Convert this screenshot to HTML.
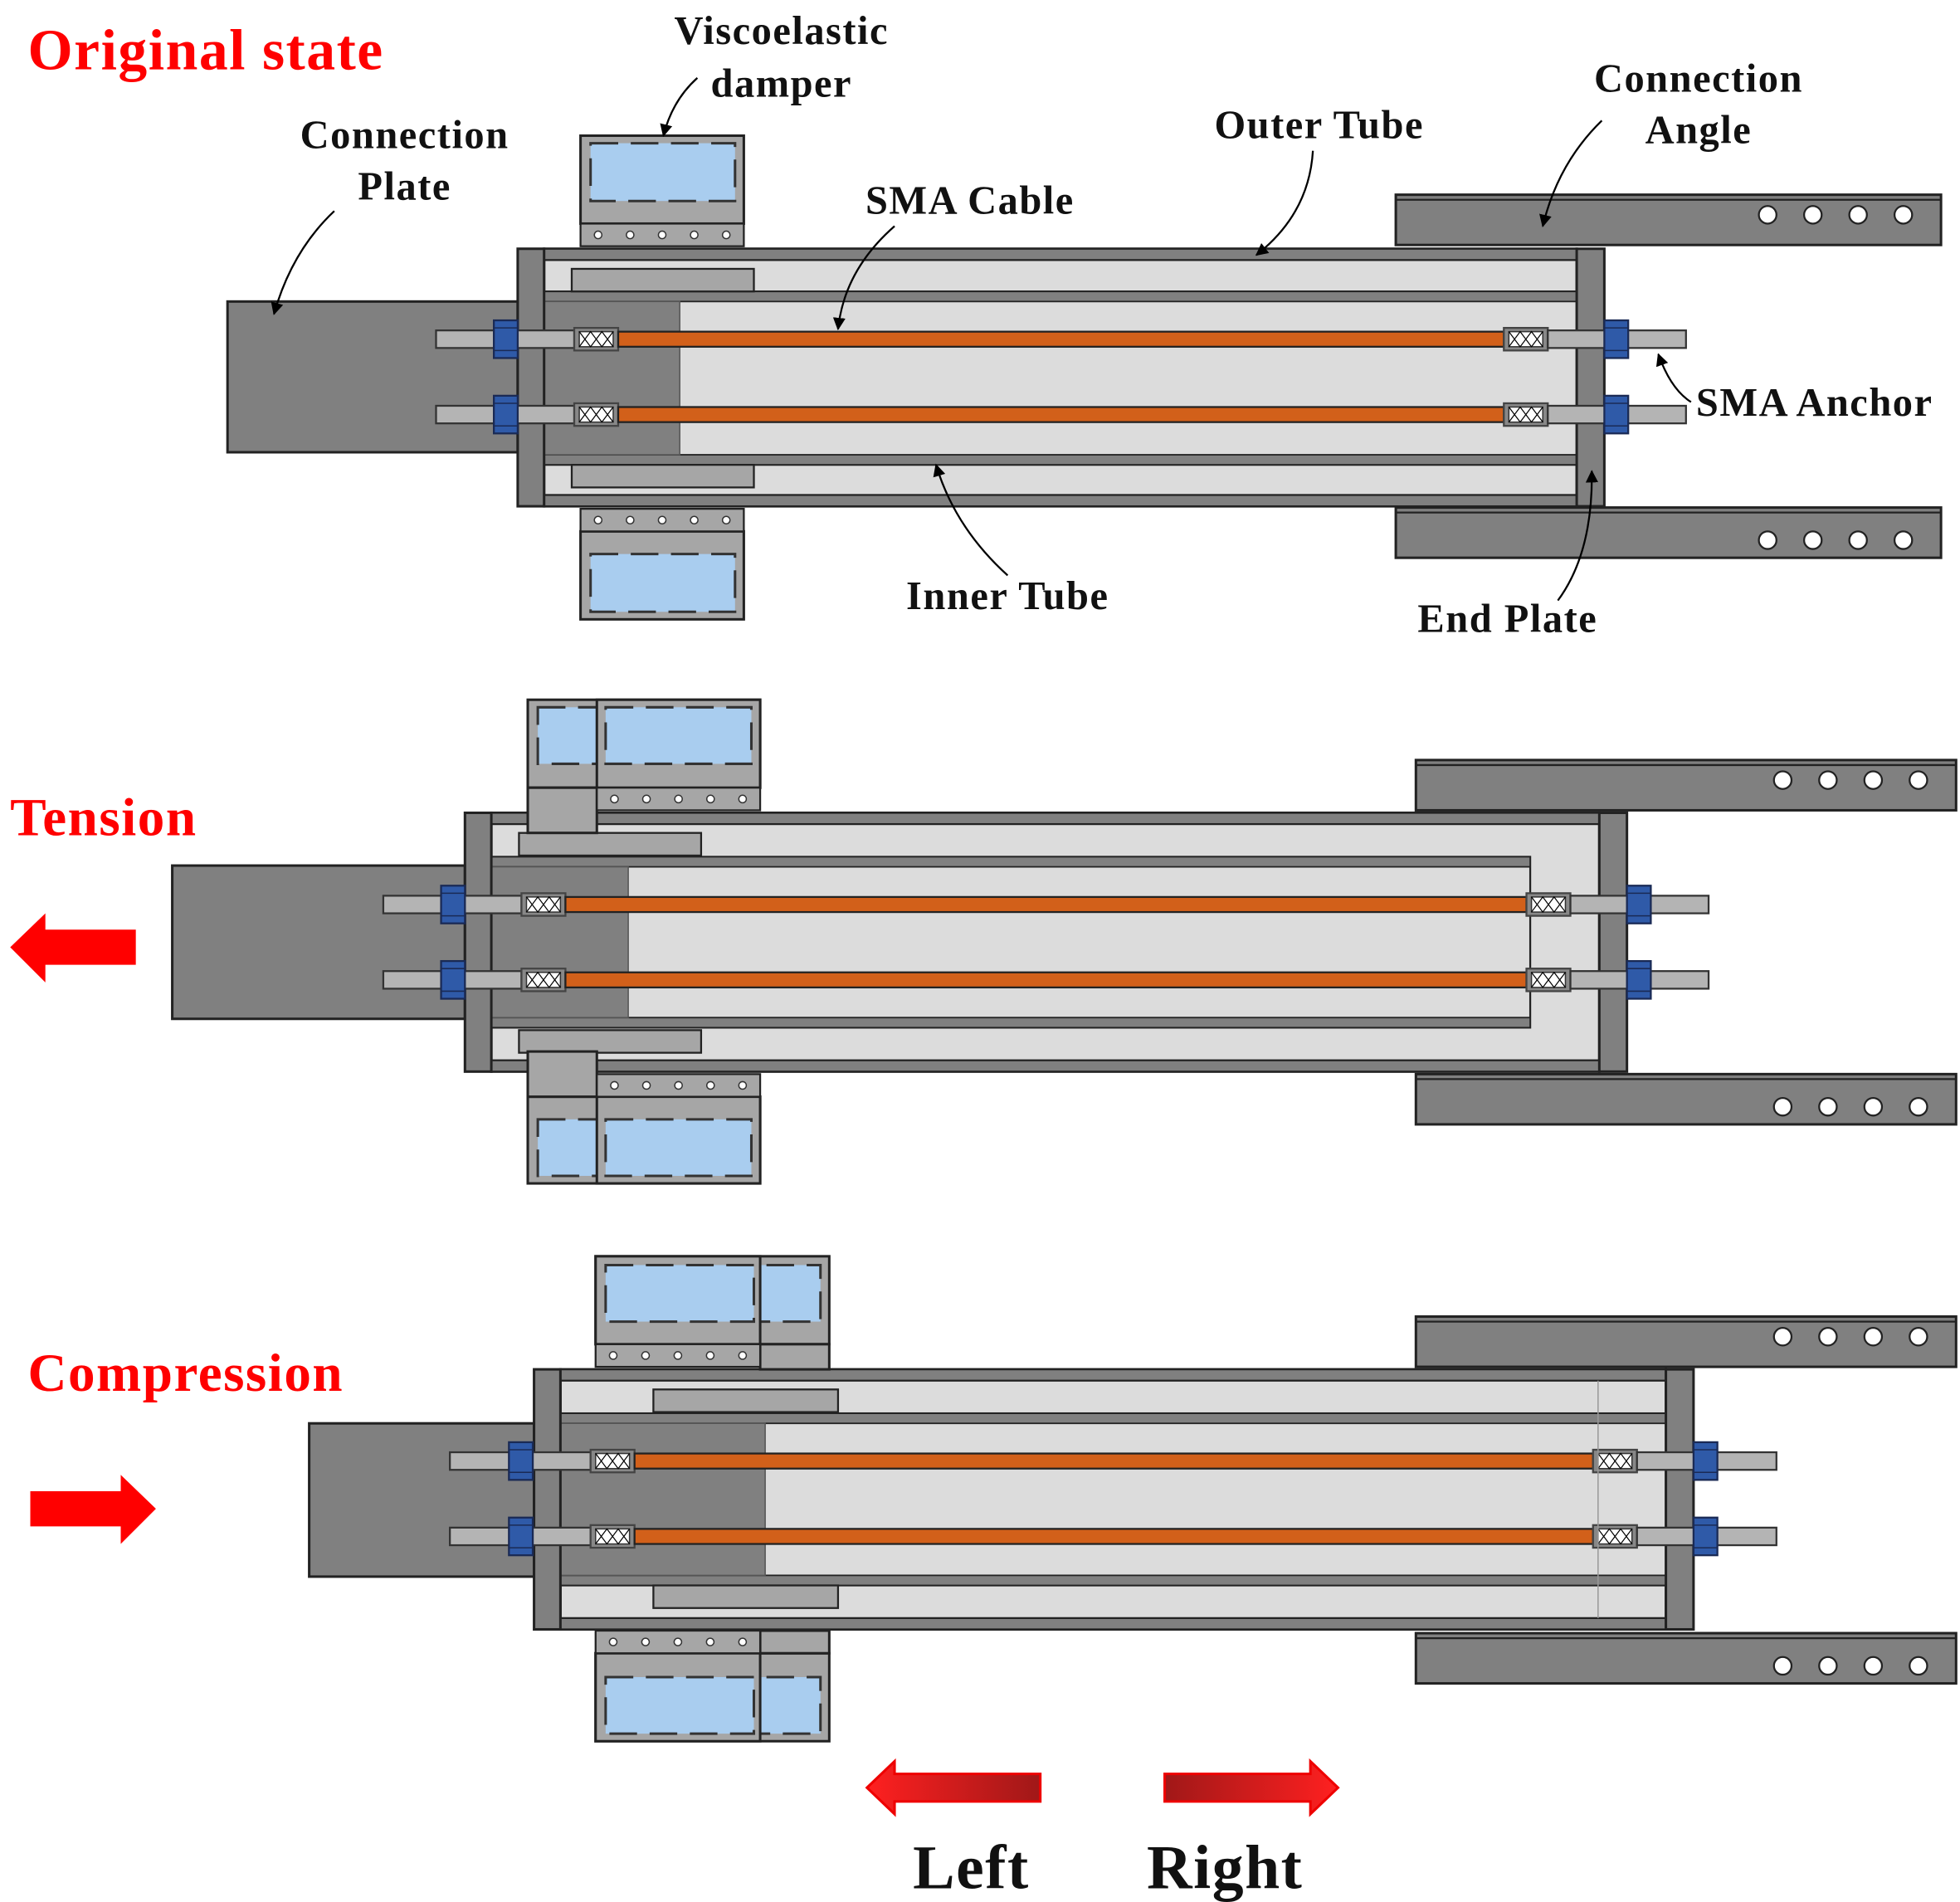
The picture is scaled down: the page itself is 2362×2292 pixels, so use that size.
<!DOCTYPE html>
<html><head><meta charset="utf-8">
<style>
html,body{margin:0;padding:0;background:#fff;}
svg{display:block;}
.lb{font-family:"Liberation Serif",serif;font-weight:bold;fill:#111;font-size:32px;letter-spacing:1px;}
.red{font-family:"Liberation Serif",serif;font-weight:bold;fill:#f00;letter-spacing:1px;}
</style></head>
<body>
<svg id="s" width="2362" height="2292" viewBox="0 0 1560 1514" xmlns="http://www.w3.org/2000/svg">
<defs>
<marker id="ah" markerWidth="10" markerHeight="10" refX="9" refY="5" orient="auto" markerUnits="userSpaceOnUse" viewBox="0 0 10 10">
<path d="M0,0 L10,5 L0,10 z" fill="#000"/></marker>
<linearGradient id="gl" x1="0" x2="1"><stop offset="0" stop-color="#ff2020"/><stop offset="1" stop-color="#a01818"/></linearGradient>
<linearGradient id="gr" x1="0" x2="1"><stop offset="0" stop-color="#a01818"/><stop offset="1" stop-color="#ff2020"/></linearGradient>
</defs>
<g id="shapes"></g>

<text class="red" x="22" y="55" font-size="46">Original state</text>
<text class="lb" x="622" y="35" text-anchor="middle">Viscoelastic</text>
<text class="lb" x="622" y="77" text-anchor="middle">damper</text>
<text class="lb" x="322" y="118" text-anchor="middle">Connection</text>
<text class="lb" x="322" y="159" text-anchor="middle">Plate</text>
<text class="lb" x="772" y="170" text-anchor="middle">SMA Cable</text>
<text class="lb" x="1050" y="110" text-anchor="middle">Outer Tube</text>
<text class="lb" x="1352" y="73" text-anchor="middle">Connection</text>
<text class="lb" x="1352" y="114" text-anchor="middle">Angle</text>
<text class="lb" x="1350" y="331">SMA Anchor</text>
<text class="lb" x="802" y="485" text-anchor="middle">Inner Tube</text>
<text class="lb" x="1200" y="503" text-anchor="middle">End Plate</text>
<text class="red" x="8" y="665" font-size="43">Tension</text>
<text class="red" x="22" y="1107" font-size="43">Compression</text>
<text class="lb" x="773" y="1503" text-anchor="middle" style="font-size:50px">Left</text>
<text class="lb" x="975" y="1503" text-anchor="middle" style="font-size:50px">Right</text>

<g fill="none" stroke="#000" stroke-width="1.5">
<path d="M555,62 Q535,80 528,108" marker-end="url(#ah)"/>
<path d="M266,168 Q232,200 218,250" marker-end="url(#ah)"/>
<path d="M712,180 Q672,215 667,262" marker-end="url(#ah)"/>
<path d="M1045,120 Q1042,170 1000,203" marker-end="url(#ah)"/>
<path d="M1275,96 Q1240,130 1228,180" marker-end="url(#ah)"/>
<path d="M1346,320 Q1330,310 1320,282" marker-end="url(#ah)"/>
<path d="M802,458 Q760,420 745,370" marker-end="url(#ah)"/>
<path d="M1240,478 Q1268,440 1267,375" marker-end="url(#ah)"/>
</g>

<path d="M8,754 L36,727 L36,740 L108,740 L108,768 L36,768 L36,782 z" fill="#f00"/>
<path d="M124,1201 L96,1174 L96,1187 L24,1187 L24,1215 L96,1215 L96,1229 z" fill="#f00"/>
<path d="M690,1423 L712,1402 L712,1412 L828,1412 L828,1434 L712,1434 L712,1444 z" fill="url(#gl)" stroke="#e00" stroke-width="2"/>
<path d="M1065,1423 L1043,1402 L1043,1412 L927,1412 L927,1434 L1043,1434 L1043,1444 z" fill="url(#gr)" stroke="#e00" stroke-width="2"/>
</svg>
<script>
const g=document.getElementById('shapes');let h='';
const D='#808080',L='#dcdcdc',M='#a6a6a6',K='#222';
function R(x,y,w,hh,f,s,sw,extra){if(w<=0)return;h+=`<rect x="${x}" y="${y}" width="${w}" height="${hh}" fill="${f}" stroke="${s||K}" stroke-width="${sw||1.5}" ${extra||''}/>`;}
function rod(x1,x2,y){R(x1,y-7,x2-x1,14,'#b4b4b4','#333',1.5);}
function nut(x,y){R(x,y-15,19,30,'#2f5aa8','#1a2a55',1.5);h+=`<line x1="${x}" y1="${y-9}" x2="${x+19}" y2="${y-9}" stroke="#1a2a55"/><line x1="${x}" y1="${y+9}" x2="${x+19}" y2="${y+9}" stroke="#1a2a55"/>`;}
function cpl(x,y){R(x,y-9,35,18,'#888','#444',1.5);R(x+4,y-6,27,12,'#fff','#333',1);h+=`<path d="M${x+4},${y-6} L${x+13},${y+6} L${x+22},${y-6} L${x+31},${y+6} M${x+4},${y+6} L${x+13},${y-6} L${x+22},${y+6} L${x+31},${y-6}" stroke="#000" stroke-width="0.8" fill="none"/>`;}
function cable(x1,x2,y){R(x1,y-6,x2-x1,12,'#d2601a',K,1.5);}
function bolts(x,y,w){R(x,y,w,18,M,K,1.5);for(let i=0;i<5;i++){h+=`<circle cx="${x+14+i*(w-28)/4}" cy="${y+9}" r="3" fill="#fff" stroke="#333"/>`;}}
function angle(x1,x2,y,cy){R(x1,y,x2-x1,40,D,K,2);h+=`<line x1="${x1}" y1="${y+4}" x2="${x2}" y2="${y+4}" stroke="${K}" stroke-width="1.5"/>`;[0,1,2,3].forEach(i=>h+=`<circle cx="${x2-138+i*36}" cy="${cy}" r="7" fill="#fff" stroke="#222" stroke-width="1.5"/>`);}
function blue(x,y,w,hh){R(x,y,w,hh,'#a9cdef','#333',2,'stroke-dasharray="22 10"');}

function state(o){
 angle(o.ax,o.ax2,o.ay1,o.ay1+16);angle(o.ax,o.ax2,o.ay2,o.ay2+26);
 R(o.ox1,o.ty,o.ox2-o.ox1,o.tb-o.ty,L,K,2);
 R(o.ox1,o.ty,o.ox2-o.ox1,9,D,K,1.5);R(o.ox1,o.tb-9,o.ox2-o.ox1,9,D,K,1.5);
 R(o.ix1,o.ity,o.ix2-o.ix1,o.itb-o.ity,L,K,1.5);
 R(o.ix1,o.ity,o.ix2-o.ix1,8,D,K,1.2);R(o.ix1,o.itb-8,o.ix2-o.ix1,8,D,K,1.2);
 R(o.ix1,o.ity+8,o.bx-o.ix1,o.itb-o.ity-16,D,'#555',1);
 R(o.px,o.pty,o.pw,18,M,K,1.5);R(o.px,o.pby,o.pw,18,M,K,1.5);
 R(o.cx1,o.cy1,o.cx2-o.cx1,o.cy2-o.cy1,D,K,2);
 R(o.lep,o.ey1,21,o.ey2-o.ey1,D,K,2);R(o.rep,o.ty,22,o.tb-o.ty,D,K,2);
 o.dam.forEach(d=>{R(d.x,d.y,d.w,d.h,M,K,2);if(d.bw)blue(d.bx,d.by,d.bw,d.bh);});
 bolts(o.btx,o.bty1,o.btw);bolts(o.btx,o.bty2,o.btw);
 [o.r1,o.r2].forEach(y=>{rod(o.lr,o.c1,y);nut(o.ln,y);cpl(o.c1,y);cable(o.c1+35,o.c2,y);cpl(o.c2,y);rod(o.c2+35,o.rr,y);nut(o.rn,y);});
}
state({ax:1111,ax2:1545,ay1:155,ay2:404,ox1:433,ox2:1255,ty:198,tb:403,ix1:433,ix2:1255,ity:232,itb:370,bx:541,
 px:455,pw:145,pty:214,pby:370,cx1:181,cy1:240,cx2:412,cy2:360,lep:412,ey1:198,ey2:403,rep:1255,
 dam:[{x:462,y:108,w:130,h:70,bx:470,by:114,bw:115,bh:46},{x:462,y:423,w:130,h:70,bx:470,by:441,bw:115,bh:46}],
 btx:462,bty1:178,bty2:405,btw:130,r1:270,r2:330,lr:347,c1:457,ln:393,c2:1197,rr:1342,rn:1277});
state({ax:1127,ax2:1557,ay1:605,ay2:855,ox1:391,ox2:1273,ty:647,tb:853,ix1:391,ix2:1218,ity:682,itb:818,bx:500,
 px:413,pw:145,pty:663,pby:820,cx1:137,cy1:689,cx2:370,cy2:811,lep:370,ey1:647,ey2:853,rep:1273,
 dam:[{x:420,y:557,w:185,h:70,bx:428,by:563,bw:170,bh:45},{x:475,y:557,w:130,h:70,bx:482,by:563,bw:116,bh:45},
      {x:420,y:873,w:185,h:69,bx:428,by:891,bw:170,bh:45},{x:475,y:873,w:130,h:69,bx:482,by:891,bw:116,bh:45},
      {x:420,y:627,w:55,h:36,bw:0},{x:420,y:837,w:55,h:36,bw:0}],
 btx:475,bty1:627,bty2:855,btw:130,r1:720,r2:780,lr:305,c1:415,ln:351,c2:1215,rr:1360,rn:1295});
state({ax:1127,ax2:1557,ay1:1048,ay2:1300,ox1:446,ox2:1326,ty:1090,tb:1297,ix1:446,ix2:1326,ity:1125,itb:1262,bx:609,
 px:520,pw:147,pty:1106,pby:1262,cx1:246,cy1:1133,cx2:425,cy2:1255,lep:425,ey1:1090,ey2:1297,rep:1326,
 dam:[{x:474,y:1000,w:186,h:70,bx:482,by:1007,bw:171,bh:45},{x:474,y:1000,w:131,h:70,bx:482,by:1007,bw:118,bh:45},
      {x:474,y:1316,w:186,h:70,bx:482,by:1335,bw:171,bh:45},{x:474,y:1316,w:131,h:70,bx:482,by:1335,bw:118,bh:45},
      {x:605,y:1070,w:55,h:20,bw:0},{x:605,y:1298,w:55,h:18,bw:0}],
 btx:474,bty1:1070,bty2:1298,btw:131,r1:1163,r2:1223,lr:358,c1:470,ln:405,c2:1268,rr:1414,rn:1348});
h+=`<line x1="1272" y1="1099" x2="1272" y2="1288" stroke="#999" stroke-width="1"/>`;
g.innerHTML=h;
</script>
</body></html>
